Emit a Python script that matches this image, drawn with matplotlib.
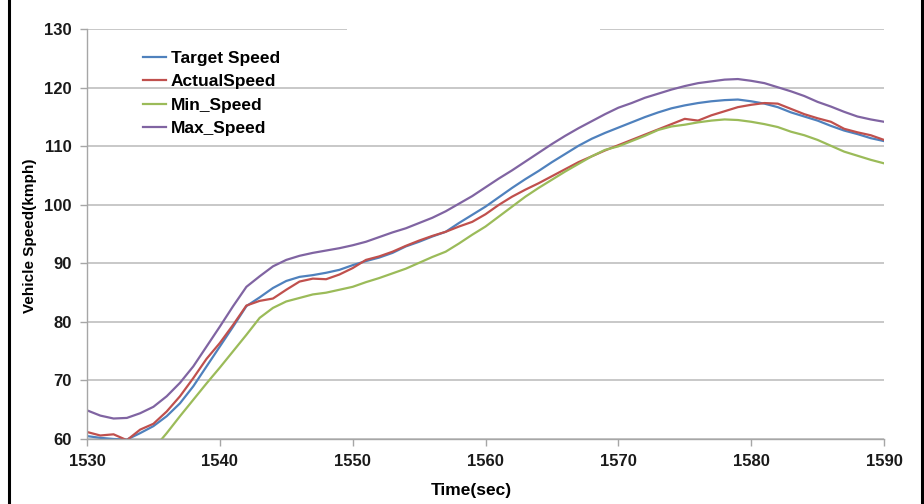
import numpy as np
import matplotlib
matplotlib.use('Agg')
import matplotlib.pyplot as plt
from matplotlib.patches import Rectangle
from matplotlib.lines import Line2D

plt.rcParams['font.family'] = ['Liberation Sans', 'DejaVu Sans']
plt.rcParams['font.weight'] = 'bold'

# time axis (sec)
time = np.arange(1530, 1591)

target_speed = [60.5, 60.2, 60.0, 59.9, 61.0, 62.2, 63.9, 66.1, 69.0, 72.4,
                75.8, 79.2, 82.7, 84.2, 85.8, 87.0, 87.7, 88.0, 88.4, 88.9,
                89.7, 90.4, 91.0, 91.8, 92.9, 93.7, 94.6, 95.4, 96.9, 98.3,
                99.7, 101.3, 102.9, 104.4, 105.8, 107.3, 108.7, 110.1, 111.3, 112.3,
                113.2, 114.1, 115.0, 115.8, 116.5, 117.0, 117.4, 117.7, 117.9, 118.0,
                117.7, 117.3, 116.7, 115.8, 115.1, 114.4, 113.5, 112.7, 112.1, 111.4,
                110.9]

actual_speed = [61.2, 60.6, 60.8, 59.8, 61.6, 62.6, 64.7, 67.3, 70.4, 73.7,
                76.4, 79.5, 82.8, 83.6, 84.0, 85.5, 86.9, 87.4, 87.3, 88.1,
                89.2, 90.6, 91.2, 92.0, 93.0, 93.9, 94.7, 95.4, 96.3, 97.1,
                98.4, 100.0, 101.4, 102.6, 103.7, 104.9, 106.1, 107.3, 108.3, 109.3,
                110.2, 111.1, 112.0, 112.9, 113.8, 114.7, 114.4, 115.3, 116.0, 116.7,
                117.1, 117.4, 117.3, 116.4, 115.5, 114.8, 114.2, 113.0, 112.4, 111.9,
                111.1]

min_speed = [np.nan, np.nan, np.nan, np.nan, np.nan, 58.3, 61.0, 63.9, 66.7, 69.5,
             72.2, 75.0, 77.8, 80.7, 82.4, 83.5, 84.1, 84.7, 85.0, 85.5,
             86.0, 86.8, 87.5, 88.3, 89.1, 90.1, 91.1, 92.0, 93.4, 94.9,
             96.3, 98.0, 99.7, 101.4, 102.9, 104.3, 105.7, 107.0, 108.3, 109.4,
             110.0, 110.9, 111.8, 112.8, 113.4, 113.7, 114.1, 114.4, 114.6, 114.5,
             114.2, 113.8, 113.3, 112.5, 111.9, 111.1, 110.1, 109.1, 108.4, 107.7,
             107.1]

max_speed = [64.9, 64.0, 63.5, 63.6, 64.4, 65.5, 67.3, 69.6, 72.4, 75.8,
             79.2, 82.7, 86.0, 87.8, 89.5, 90.6, 91.3, 91.8, 92.2, 92.6,
             93.1, 93.7, 94.5, 95.3, 96.0, 96.9, 97.8, 98.9, 100.2, 101.5,
             103.0, 104.5, 105.9, 107.4, 108.9, 110.4, 111.8, 113.1, 114.3, 115.5,
             116.6, 117.4, 118.3, 119.0, 119.7, 120.3, 120.8, 121.1, 121.4, 121.5,
             121.2, 120.8, 120.1, 119.4, 118.6, 117.6, 116.8, 115.9, 115.1, 114.6,
             114.2]

fig = plt.figure(figsize=(9.24, 5.04), dpi=100)
ax = fig.add_axes([87 / 924, 1 - 439 / 504, 797 / 924, 409.7 / 504])

ax.plot(time, target_speed, color='#4F81BD', linewidth=1.6, label='Target Speed')
ax.plot(time, actual_speed, color='#C0504D', linewidth=1.6, label='ActualSpeed')
ax.plot(time, min_speed, color='#9BBB59', linewidth=1.6, label='Min_Speed')
ax.plot(time, max_speed, color='#8064A2', linewidth=1.6, label='Max_Speed')

ax.set_xlim(1530, 1590)
ax.set_ylim(60, 130)
ax.set_xticks(np.arange(1530, 1591, 10))
ax.set_yticks(np.arange(60, 131, 10))

ax.grid(axis='y', color='#BFBFBF', linewidth=1.2)
ax.set_axisbelow(True)
# gap in the top gridline
ax.add_patch(Rectangle((0.326, 0.985), 0.318, 0.03, transform=ax.transAxes,
                       facecolor='white', edgecolor='none', zorder=1.5, clip_on=False))

for s in ['top', 'right']:
    ax.spines[s].set_visible(False)
for s in ['left', 'bottom']:
    ax.spines[s].set_color('#A6A6A6')
    ax.spines[s].set_linewidth(1.0)
ax.tick_params(axis='both', direction='out', length=5, width=1.0, color='#A6A6A6',
               labelsize=12, labelcolor='#1A1A1A', pad=6)

ax.set_xlabel('Time(sec)', fontsize=12.5, fontweight='bold')
ax.set_ylabel('Vehicle Speed(kmph)', fontsize=11, fontweight='bold')
ax.xaxis.set_label_coords(0.482, -0.108)
ax.yaxis.set_label_coords(-0.063, 0.497)

ax.legend(loc='upper left', bbox_to_anchor=(0.07, 0.947), frameon=False,
          prop={'size': 12.5, 'weight': 'bold'}, handlelength=1.35,
          handletextpad=0.25, labelspacing=0.47, borderpad=0, borderaxespad=0)

# black side borders
fig.add_artist(Line2D([8.5 / 924, 8.5 / 924], [0, 1], color='black', linewidth=2.2,
                      transform=fig.transFigure))
fig.add_artist(Line2D([921.5 / 924, 921.5 / 924], [0, 1], color='black', linewidth=2.2,
                      transform=fig.transFigure))

plt.savefig('out.png', dpi=100)
